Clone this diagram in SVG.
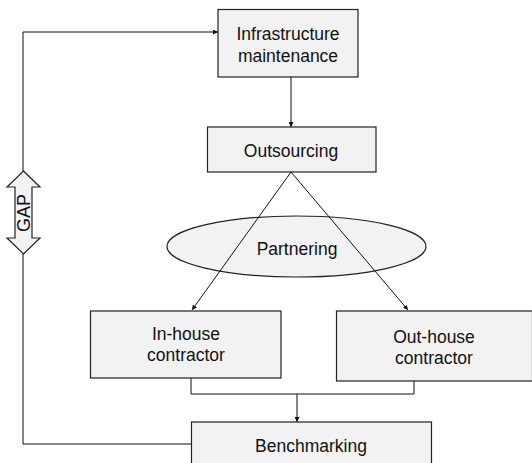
<svg xmlns="http://www.w3.org/2000/svg" width="532" height="463" viewBox="0 0 532 463">
  <style>
    .box { fill: #f2f2f2; stroke: #222; stroke-width: 1.2; }
    .lbl { font-family: "Liberation Sans", Arial, sans-serif; font-size: 17.5px; fill: #111; text-anchor: middle; }
    .wire { fill: none; stroke: #111; stroke-width: 1; }
  </style>
  <defs>
    <marker id="tip" viewBox="0 0 6 6" refX="6" refY="3" markerWidth="5" markerHeight="5" markerUnits="userSpaceOnUse" orient="auto">
      <path d="M0,0 L6,3 L0,6 Z" fill="#111"/>
    </marker>
  </defs>

  <rect width="532" height="463" fill="#fff"/>

  <!-- partnering ellipse sits underneath the outsourcing lines -->
  <g id="partnering">
    <ellipse class="box" cx="296.5" cy="246.5" rx="129.5" ry="30.5"/>
    <text class="lbl" x="297" y="255">Partnering</text>
  </g>

  <!-- connectors -->
  <g id="connectors">
    <path class="wire" d="M291,77 V127" marker-end="url(#tip)"/>
    <path class="wire" d="M291,172 L192,310" marker-end="url(#tip)"/>
    <path class="wire" d="M291,172 L408,310" marker-end="url(#tip)"/>
    <path class="wire" d="M191,378 V394 H414 V381"/>
    <path class="wire" d="M297,394 V422" marker-end="url(#tip)"/>
    <path class="wire" d="M191,444 H23 V254 M23,171 V32 H218" marker-end="url(#tip)"/>
  </g>

  <g id="infrastructure">
    <rect class="box" x="218" y="9.5" width="140" height="67.5"/>
    <text class="lbl" x="288" y="40">Infrastructure</text>
    <text class="lbl" x="288" y="62">maintenance</text>
  </g>

  <g id="outsourcing">
    <rect class="box" x="207.5" y="127" width="168.5" height="45"/>
    <text class="lbl" x="291" y="157">Outsourcing</text>
  </g>

  <g id="inhouse">
    <rect class="box" x="90.5" y="311" width="190.5" height="67"/>
    <text class="lbl" x="186" y="340">In-house</text>
    <text class="lbl" x="186" y="361">contractor</text>
  </g>

  <g id="outhouse">
    <rect class="box" x="336.5" y="311" width="196" height="70"/>
    <text class="lbl" x="434" y="343">Out-house</text>
    <text class="lbl" x="434" y="364">contractor</text>
  </g>

  <g id="benchmarking">
    <rect class="box" x="191.5" y="422" width="240" height="50"/>
    <text class="lbl" x="311" y="452">Benchmarking</text>
  </g>

  <!-- double-headed GAP arrow on the feedback line -->
  <g id="gap">
    <path class="box" d="M23.5,171 L40,187 L32,187 L32,238 L40,238 L23.5,254 L7,238 L15,238 L15,187 L7,187 Z"/>
    <text class="lbl" transform="translate(29.5,213) rotate(-90)" style="font-size:18px">GAP</text>
  </g>
</svg>
